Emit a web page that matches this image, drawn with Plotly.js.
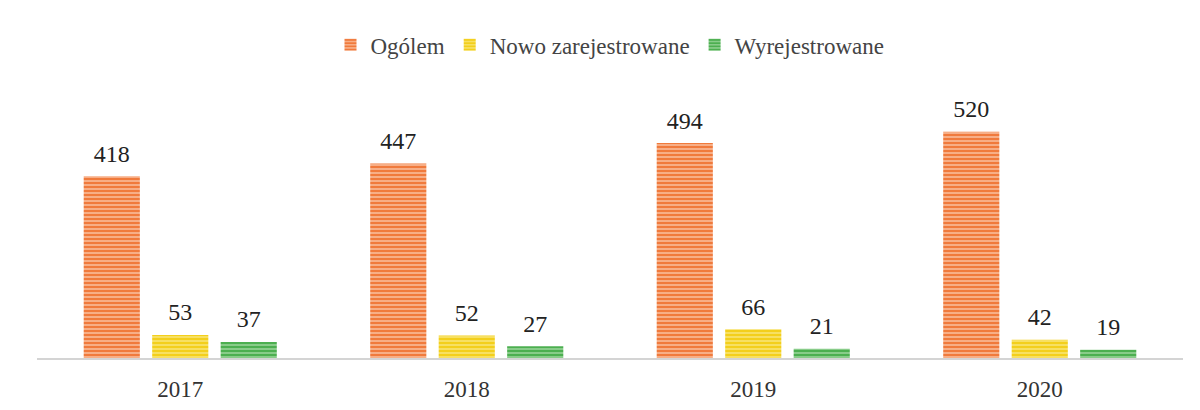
<!DOCTYPE html>
<html><head><meta charset="utf-8">
<script src="https://cdn.plot.ly/plotly-3.0.1.min.js"></script>
<style>html,body{margin:0;padding:0;background:#fff}#c{width:1200px;height:410px}</style>
</head><body><div id="c"></div>
<script>
const years = ['2017','2018','2019','2020'];
const ogolem = [418, 447, 494, 520];
const nowo = [53, 52, 66, 42];
const wyrej = [37, 27, 21, 19];
const names = ['Ogólem','Nowo zarejestrowane','Wyrejestrowane'];
const SERIF = 'Liberation Serif';

function bar(name, vals, fg, bg){
  return {type:'bar', name:name, x:years, y:vals, hoverinfo:'skip',
    marker:{color:bg, line:{width:0}, pattern:{shape:'-', fgcolor:fg, bgcolor:bg, size:4, solidity:0.55}}};
}
function lab(name, vals){
  return {type:'scatter', mode:'markers+text', name:name, x:years, y:vals, text:vals.map(String),
    textposition:'top center', showlegend:false, cliponaxis:false,
    marker:{size:12, opacity:0},
    textfont:{family:SERIF, size:24, color:'#222'}};
}
const data = [
  bar(names[0], ogolem, '#f07a3c', '#f8b48e'),
  bar(names[1], nowo, '#f3cf1c', '#f8e26a'),
  bar(names[2], wyrej, '#4caf50', '#8fd08f'),
  lab(names[0], ogolem), lab(names[1], nowo), lab(names[2], wyrej)
];
const layout = {
  width:1200, height:410, paper_bgcolor:'#fff', plot_bgcolor:'#fff',
  margin:{l:37, r:17, t:97, b:52},
  barmode:'group', bargap:0.283, bargroupgap:0.18,
  scattermode:'group', scattergap:0.283,
  showlegend:true,
  legend:{orientation:'h', x:0.5, xanchor:'center', y:1.2, yanchor:'middle',
    font:{family:SERIF, size:23, color:'#444'}, traceorder:'normal'},
  xaxis:{type:'category', showline:true, linecolor:'#d4d4d4', linewidth:2, ticks:'', showgrid:false,
    ticklabelstandoff:9,
    tickfont:{family:SERIF, size:23, color:'#333'}},
  yaxis:{range:[0,600], visible:false, showgrid:false, zeroline:false}
};
Plotly.newPlot('c', data, layout, {displayModeBar:false, staticPlot:true});
</script></body></html>
